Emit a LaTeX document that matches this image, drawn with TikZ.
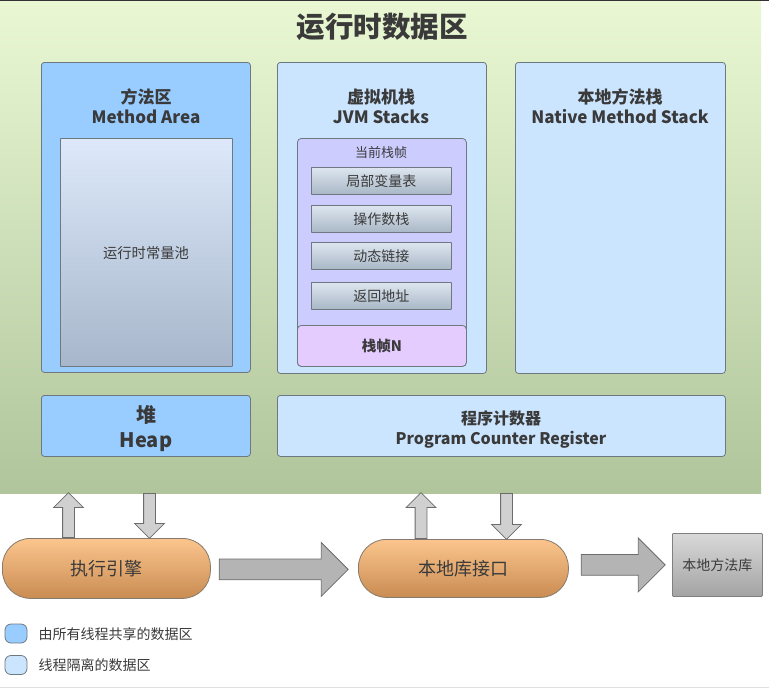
\documentclass[tikz,border=0pt]{standalone}
\usepackage{fontspec}
\setmainfont{Noto Sans CJK SC}
\usetikzlibrary{positioning,shapes.arrows}

\definecolor{greentop}{HTML}{E9F8D3}
\definecolor{greenbot}{HTML}{B0C59C}
\definecolor{shared}{HTML}{99CCFF}
\definecolor{isolated}{HTML}{CCE5FF}
\definecolor{edge}{HTML}{6D7880}
\definecolor{ink}{HTML}{3A3A3A}
\definecolor{framebg}{HTML}{CCCCFF}
\definecolor{framen}{HTML}{E5CCFF}
\definecolor{slottop}{HTML}{DDE6F0}
\definecolor{slotbot}{HTML}{A9B7C5}
\definecolor{pooltop}{HTML}{DDE9FB}
\definecolor{poolbot}{HTML}{A7B6CA}
\definecolor{pilltop}{HTML}{FBC58D}
\definecolor{pillbot}{HTML}{C98C52}
\definecolor{libtop}{HTML}{D9D9D9}
\definecolor{libbot}{HTML}{A3A3A3}
\definecolor{arrowlight}{HTML}{D0D0D0}
\definecolor{arrowdark}{HTML}{B4B4B4}

\begin{document}
\begin{tikzpicture}[x=1pt, y=-1pt,
    area/.style={draw=edge, line width=0.8pt, rounded corners=3pt, anchor=north west, inner sep=0pt},
    head/.style={text=ink, align=center, font=\bfseries\fontsize{17}{20}\selectfont},
    slot/.style={area, top color=slottop, bottom color=slotbot, rounded corners=0.5pt, minimum width=140pt, minimum height=27pt, text=ink, font=\fontsize{14}{16}\selectfont},
    pill/.style={area, draw=edge!70!brown, top color=pilltop, bottom color=pillbot, rounded corners=28pt, text=ink, font=\fontsize{18}{21}\selectfont},
    thinarrow/.style={single arrow, draw=gray!85!black, fill=arrowlight, line width=0.8pt, inner xsep=0pt, inner ysep=5.5pt, single arrow head extend=9pt, single arrow tip angle=90, anchor=tail},
    fatarrow/.style={thinarrow, fill=arrowdark, inner ysep=10pt, single arrow head extend=16.5pt},
    key/.style={draw=edge, line width=0.8pt, rounded corners=6pt, minimum width=22pt, minimum height=19pt, inner sep=0pt},
    keytext/.style={anchor=west, text=ink, font=\fontsize{14}{16}\selectfont}]
    \useasboundingbox (0,0) rectangle (769,691);

    % runtime data area
    \fill[top color=greentop, bottom color=greenbot] (0,1) rectangle (761,493);
    \draw[black!80, line width=1pt] (0,0.5) -- (769,0.5);
    \draw[black!12, line width=0.8pt] (0,687) -- (769,687);
    \node[text=ink, font=\bfseries\fontsize{28.5}{32}\selectfont] (title) at (382,27) { 运行时数据区 };

    % method area
    \node[area, fill=shared, minimum width=209pt, minimum height=310pt] (method) at (41,62) {};
    \node[head] (methodlbl) at (146,106) { 方法区\\Method Area };
    \node[area, top color=pooltop, bottom color=poolbot, rounded corners=0.5pt, minimum width=172pt, minimum height=228pt] (pool) at (60,138) {};
    \node[text=ink, font=\fontsize{14.3}{16}\selectfont] (poollbl) at (146,253) { 运行时常量池 };

    % jvm stacks
    \node[area, fill=isolated, minimum width=209pt, minimum height=311pt] (jvm) at (277,62) {};
    \node[head] (jvmlbl) at (381,106) { 虚拟机栈\\JVM Stacks };
    \node[area, fill=framebg, rounded corners=4pt, minimum width=169pt, minimum height=228pt] (frame) at (297,138) {};
    \node[text=ink, font=\fontsize{13}{15}\selectfont] (framelbl) at (381,153) { 当前栈帧 };
    \foreach \y/\t/\n in {167/局部变量表/locals, 205/操作数栈/operand, 242/动态链接/dynlink, 282/返回地址/retaddr}
        \node[slot] (\n) at (311,\y) { \t };
    \node[area, fill=framen, rounded corners=4pt, minimum width=169pt, minimum height=41pt, text=ink, font=\bfseries\fontsize{14.5}{16}\selectfont] (framen) at (297,325) { 栈帧N };

    % native method stack
    \node[area, fill=isolated, minimum width=210pt, minimum height=311pt] (native) at (515,62) {};
    \node[head] (nativelbl) at (620,106) { 本地方法栈\\Native Method Stack };

    % heap and pc register
    \node[area, fill=shared, minimum width=209pt, minimum height=61pt] (heap) at (41,395) {};
    \node[text=ink, align=center, font=\bfseries\fontsize{20}{25}\selectfont] (heaplbl) at (146,429) { 堆\\Heap };
    \node[area, fill=isolated, minimum width=448pt, minimum height=61pt] (pc) at (277,395) {};
    \node[text=ink, align=center, font=\bfseries\fontsize{16}{20}\selectfont] (pclbl) at (501,429) { 程序计数器\\Program Counter Register };

    % engine, interface, library
    \node[pill, minimum width=208pt, minimum height=60pt] (engine) at (2,538) { 执行引擎 };
    \node[pill, minimum width=210pt, minimum height=58pt] (nli) at (358,539) { 本地库接口 };
    \node[area, draw=gray, top color=libtop, bottom color=libbot, rounded corners=1pt, minimum width=90pt, minimum height=63pt, text=ink, font=\fontsize{14}{16}\selectfont] (lib) at (672,533) { 本地方法库 };

    \node[thinarrow, rotate=90, minimum height=45pt] (up1) at (68.5,538) {};
    \node[thinarrow, rotate=-90, minimum height=45pt] (down1) at (149.5,493) {};
    \node[thinarrow, rotate=90, minimum height=46pt] (up2) at (421,539) {};
    \node[thinarrow, rotate=-90, minimum height=46pt] (down2) at (506.5,493) {};
    \node[fatarrow, minimum height=129pt] (go1) at ([xshift=8pt,yshift=-1pt]engine.east) {};
    \node[fatarrow, minimum height=84pt] (go2) at ([xshift=12pt,yshift=3.5pt]nli.east) {};

    % legend
    \node[key, fill=shared] (keyshared) at (16,633.5) {};
    \node[keytext] (keysharedlbl) at (35,634) { 由所有线程共享的数据区 };
    \node[key, fill=isolated] (keyiso) at (16,665) {};
    \node[keytext] (keyisolbl) at (35,665) { 线程隔离的数据区 };
\end{tikzpicture}
\end{document}
